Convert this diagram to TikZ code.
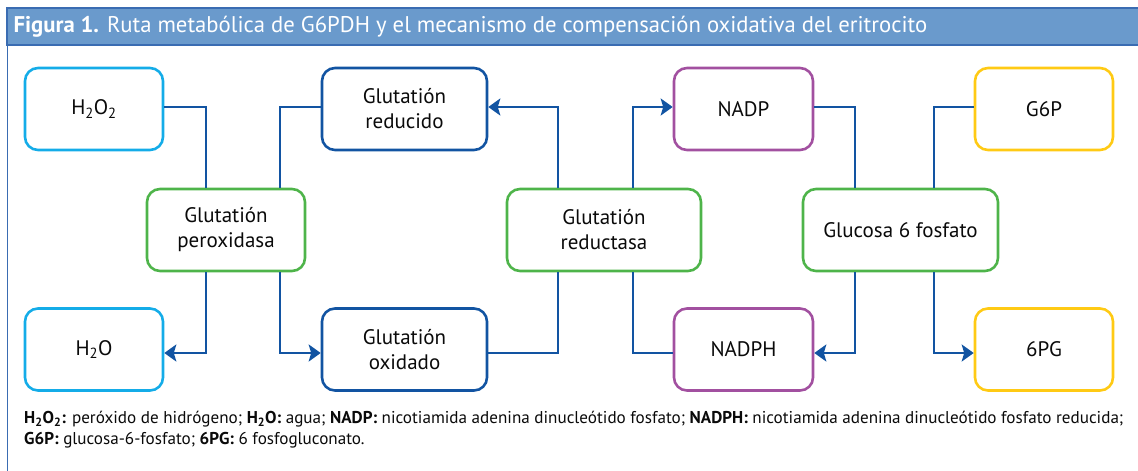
\documentclass[tikz,border=0pt]{standalone}
\usepackage{fontspec}
\setmainfont{PT Sans}
\usetikzlibrary{arrows.meta}
\definecolor{cielo}{RGB}{20,172,232}
\definecolor{marino}{RGB}{18,84,162}
\definecolor{verde}{RGB}{78,180,74}
\definecolor{morado}{RGB}{162,80,160}
\definecolor{amarillo}{RGB}{255,202,20}
\definecolor{banda}{RGB}{106,154,204}
\definecolor{bandaborde}{RGB}{58,108,178}
\definecolor{tinta}{RGB}{10,10,10}
\begin{document}
\begin{tikzpicture}[x=1pt,y=-1pt,
	box/.style={draw,line width=2.6pt,rounded corners=13pt,minimum height=82pt,align=center,text=tinta,font=\fontsize{21}{25}\selectfont},
	link/.style={draw=marino,line width=2.9pt},
	tip/.style={-{Stealth[length=12pt,width=17pt,inset=2.5pt]}}]
	\useasboundingbox (0,0) rectangle (1138,471);
	\draw[bandaborde,line width=1pt] (7,8) -- (7,471);
	\draw[fill=banda,draw=bandaborde,line width=1.2pt] (7,8) rectangle (1140,45);
	\node[anchor=west,text=white,font=\fontsize{22.7}{26}\selectfont] (titulo) at (10,27) {\textbf{Figura 1.} Ruta metabólica de G6PDH y el mecanismo de compensación oxidativa del eritrocito};
	\node[box,draw=cielo,minimum width=138pt] (h2o2) at (94,109) {H\textsubscript{2}O\textsubscript{2}};
	\node[box,draw=cielo,minimum width=138pt] (h2o) at (94,349.5) {H\textsubscript{2}O};
	\node[box,draw=verde,minimum width=158pt] (perox) at (226,230) {Glutatión\\peroxidasa};
	\node[box,draw=marino,minimum width=165pt] (reducido) at (404.5,109) {Glutatión\\reducido};
	\node[box,draw=marino,minimum width=165pt] (oxidado) at (404.5,349.5) {Glutatión\\oxidado};
	\node[box,draw=verde,minimum width=194pt] (reduct) at (604,230) {Glutatión\\reductasa};
	\node[box,draw=morado,minimum width=139pt] (nadp) at (743.5,109) {NADP};
	\node[box,draw=morado,minimum width=139pt] (nadph) at (743.5,349.5) {NADPH};
	\node[box,draw=verde,minimum width=195pt] (gluc) at (900.5,230) {Glucosa 6 fosfato};
	\node[box,draw=amarillo,minimum width=138pt] (g6p) at (1044,109) {G6P};
	\node[box,draw=amarillo,minimum width=138pt] (6pg) at (1044,349.5) {6PG};
	\draw[link] ([yshift=2pt]h2o2.east) -| ([xshift=-20pt]perox.north);
	\draw[link] ([xshift=54pt]perox.north) |- ([yshift=2pt]reducido.west);
	\draw[link,tip] ([xshift=-20pt]perox.south) |- ([yshift=-3.5pt]h2o.east);
	\draw[link,tip] ([xshift=54pt]perox.south) |- ([yshift=-3.5pt]oxidado.west);
	\draw[link,tip] ([xshift=-46pt]reduct.north) |- ([yshift=2pt]reducido.east);
	\draw[link,tip] ([xshift=29pt]reduct.north) |- ([yshift=2pt]nadp.west);
	\draw[link] ([xshift=-46pt]reduct.south) |- ([yshift=-3.5pt]oxidado.east);
	\draw[link] ([xshift=29pt]reduct.south) |- ([yshift=-3.5pt]nadph.west);
	\draw[link] ([xshift=-45.5pt]gluc.north) |- ([yshift=2pt]nadp.east);
	\draw[link] ([xshift=33.5pt]gluc.north) |- ([yshift=2pt]g6p.west);
	\draw[link,tip] ([xshift=-45.5pt]gluc.south) |- ([yshift=-3.5pt]nadph.east);
	\draw[link,tip] ([xshift=33.5pt]gluc.south) |- ([yshift=-3.5pt]6pg.west);
	\node[anchor=north west,align=left,text=tinta,inner sep=0pt,font=\fontsize{17.1}{20.5}\selectfont] (notas) at (24,411) {\textbf{H\textsubscript{2}O\textsubscript{2}:} peróxido de hidrógeno; \textbf{H\textsubscript{2}O:} agua; \textbf{NADP:} nicotiamida adenina dinucleótido fosfato; \textbf{NADPH:} nicotiamida adenina dinucleótido fosfato reducida;\\
	\textbf{G6P:} glucosa-6-fosfato; \textbf{6PG:} 6 fosfogluconato.};
\end{tikzpicture}
\end{document}
